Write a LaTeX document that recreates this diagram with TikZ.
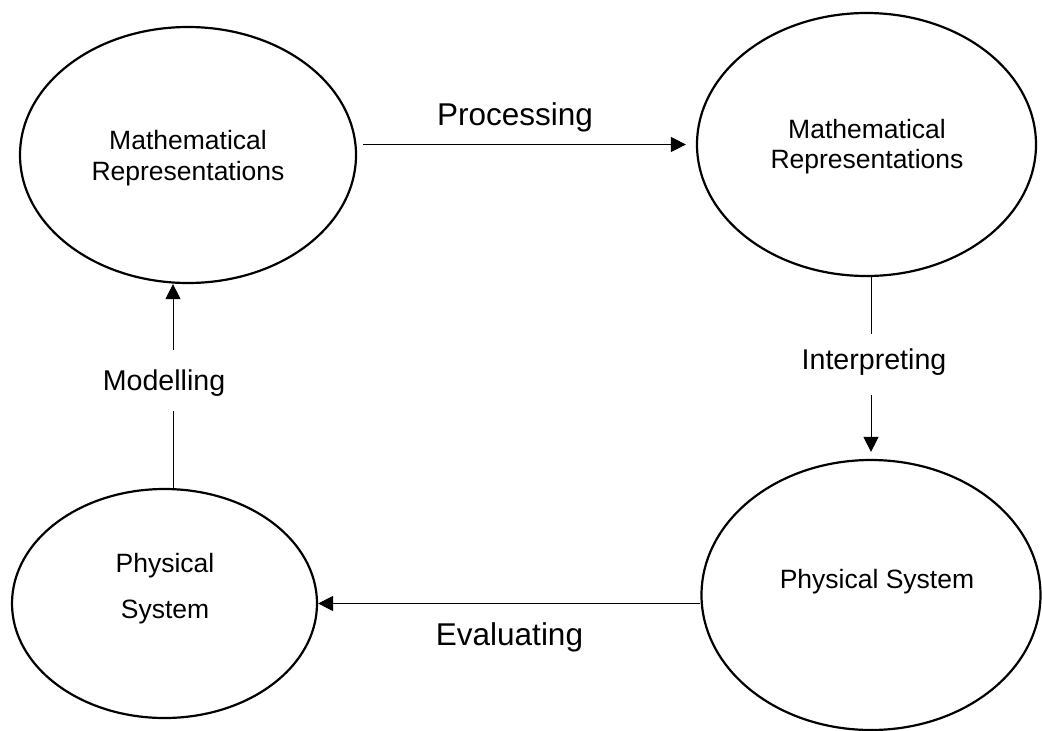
\documentclass[tikz,border=0pt]{standalone}
\usepackage{fontspec}
\setmainfont{Liberation Sans}
\usetikzlibrary{shapes.geometric,arrows.meta}
\begin{document}
\begin{tikzpicture}[x=1pt,y=-1pt,
  stage/.style={ellipse, draw, line width=2.2pt, inner sep=0pt},
  flow/.style={-{Triangle[length=15pt,width=15pt]}, line width=1pt},
  link/.style={line width=1pt},
  intext/.style={anchor=base, inner sep=0pt, font=\fontsize{26.5}{31}\selectfont},
  biglabel/.style={anchor=base, inner sep=0pt, font=\fontsize{31.5}{36}\selectfont},
  gaplabel/.style={anchor=base, inner sep=0pt, font=\fontsize{28.6}{34}\selectfont}]
\useasboundingbox (0,0) rectangle (1042,731);

% the four stages of the cycle
\node[stage, minimum width=336pt, minimum height=256pt] (mr1) at (188,155) {};
\node[stage, minimum width=339pt, minimum height=263pt] (mr2) at (866.5,144.5) {};
\node[stage, minimum width=305pt, minimum height=229pt] (ps3) at (164.5,603.5) {};
\node[stage, minimum width=339pt, minimum height=270pt] (ps4) at (871,595) {};

% stage texts
\node[intext] (mr1a) at (188,149) {Mathematical};
\node[intext] (mr1b) at (188,180) {Representations};
\node[intext] (mr2a) at (867,138) {Mathematical};
\node[intext] (mr2b) at (867,168) {Representations};
\node[intext] (ps3a) at (165,572) {Physical};
\node[intext] (ps3b) at (165,618) {System};
\node[intext] (ps4a) at (877,588) {Physical System};

% step labels
\node[biglabel] (proc) at (515,125) {Processing};
\node[biglabel] (eval) at (509.5,645) {Evaluating};
\node[gaplabel, text height=40pt, text depth=21pt] (model) at (164,390) {Modelling};
\node[gaplabel, text height=35pt, text depth=26pt] (interp) at (874,369) {Interpreting};

% processing
\draw[flow, shorten <=6pt, shorten >=10pt] (mr1.east |- mr2.west) -- (mr2.west);

% interpreting
\draw[link] (mr2.south -| ps4.north) -- (interp.north -| ps4.north);
\draw[flow, shorten >=7pt] (interp.south -| ps4.north) -- (ps4.north);

% evaluating
\draw[flow] (ps4.west |- ps3.east) -- (ps3.east);

% modelling
\draw[link] ([xshift=8.5pt]ps3.north) -- ([xshift=8.5pt]ps3.north |- model.south);
\draw[flow] ([xshift=8.5pt]ps3.north |- model.north) -- ([xshift=8.5pt]ps3.north |- mr1.south);
\end{tikzpicture}
\end{document}
